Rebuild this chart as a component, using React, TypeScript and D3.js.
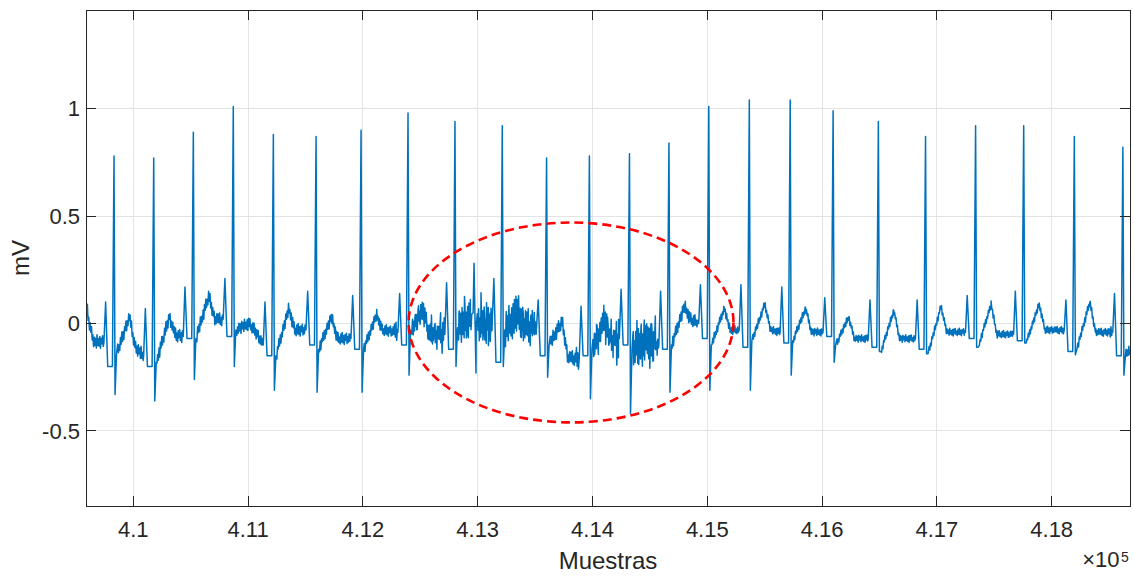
import React, { useEffect, useRef } from 'react';
import * as d3 from 'd3';

// ---- Data ----
// R-peak sample positions
const rSample = [409832, 410178, 410523, 410871, 411220, 411592, 411984, 412393, 412802, 413214, 413600, 413973, 414322, 414666, 415013, 415366, 415722, 416096, 416490, 416901, 417337, 417756, 418197, 418620];
// R-peak amplitude (mV)
const rAmp = [0.78, 0.77, 0.89, 1.01, 0.88, 0.87, 0.90, 0.98, 0.94, 0.92, 0.77, 0.78, 0.79, 0.84, 1.01, 1.04, 1.04, 0.99, 0.94, 0.87, 0.92, 0.92, 0.87, 0.82];
// S-wave minimum (mV)
const sAmp = [-0.33, -0.36, -0.26, -0.20, -0.31, -0.32, -0.32, -0.24, -0.20, -0.20, -0.25, -0.35, -0.42, -0.32, -0.31, -0.31, -0.24, -0.18, -0.13, -0.14, -0.11, -0.09, -0.145, -0.24];
// small spike preceding each R (mV)
const preAmp = [0.10, 0.07, 0.17, 0.21, 0.10, 0.15, 0.13, 0.14, 0.19, 0.21, 0.11, 0.08, 0.16, 0.15, 0.18, 0.18, 0.17, 0.12, 0.11, 0.11, 0.13, 0.15, 0.11, 0.14];
// level between the small spike and R (mV)
const qAmp = [-0.20, -0.20, -0.07, -0.06, -0.15, -0.10, -0.12, -0.10, -0.12, -0.18, -0.15, -0.15, -0.10, -0.12, -0.07, -0.11, -0.09, -0.06, -0.11, -0.12, -0.07, -0.08, -0.13, -0.15];
// level right after S (mV)
const stAmp = [-0.14, -0.18, -0.07, -0.03, -0.15, -0.12, -0.12, -0.03, -0.02, -0.03, -0.10, -0.12, -0.12, -0.10, -0.10, -0.08, -0.08, -0.10, -0.13, -0.14, -0.11, -0.09, -0.12, -0.15];
// T-wave peak (mV)
const tAmp = [0.03, 0.03, 0.13, 0.00, 0.07, 0.03, 0.04, 0.06, 0.03, 0.05, 0.01, 0.02, -0.08, 0.08, 0.07, 0.09, 0.07, 0.03, 0.06, 0.08, 0.09, 0.09, 0.10, -0.05];
// baseline after the T wave (mV)
const isoAfter = [-0.11, -0.05, 0.02, -0.03, -0.03, -0.07, -0.03, -0.05, -0.01, -0.01, -0.16, -0.08, -0.09, 0.02, -0.03, -0.03, -0.04, -0.07, -0.07, -0.04, -0.05, -0.03, -0.04, -0.12];
// baseline before the preceding spike (mV)
const isoBefore = [-0.09, -0.15, -0.06, 0.02, -0.10, -0.03, -0.07, -0.04, -0.05, 0.0, -0.02, -0.16, -0.07, -0.10, 0.0, -0.03, -0.04, -0.04, -0.07, -0.07, -0.04, -0.05, -0.03, -0.04];
// noise band strength around each beat (relative)
const beatNoise = [2.0, 2.0, 2.0, 1.9, 1.9, 1.8, 1.7, 3.0, 5.5, 5.5, 2.2, 3.5, 5.5, 2.0, 1.3, 1.2, 1.2, 1.1, 1.1, 1.1, 1.1, 1.1, 1.2, 1.6];
// beginning of the record
const leadSample = [409588, 409600, 409625, 409660, 409700];
const leadValue = [0.04, 0.06, -0.02, -0.09, -0.08];
// isolated artefact spikes inside the noisy stretch
const spikeSample = [412960, 412968, 412985];
const spikeValue = [0.05, 0.28, -0.23];
// noisy stretch 1 (deviation from the wave, mV)
const noiseAStart = 412450;
const noiseA = [0.03, -0.04, 0.06, -0.02, 0.05, -0.07, 0.02, -0.05, 0.04, 0.09, -0.03, 0.05, -0.07, 0.03, 0.10, -0.04, 0.04, -0.09, 0.07, -0.03,
  0.14, -0.05, 0.04, -0.11, 0.07, 0.02, -0.05, 0.12, -0.08, 0.05, -0.04, 0.09, -0.14, 0.04, 0.08, -0.04, 0.15, -0.07, 0.03, 0.10,
  -0.10, 0.05, -0.03, 0.12, -0.07, 0.04, 0.08, -0.05, 0.03, 0.07, -0.04, 0.05, -0.03, 0.04, -0.07, 0.09, -0.05, 0.03, -0.08, 0.05,
  -0.03, 0.05, -0.07, 0.03, -0.04, 0.07, -0.03, 0.03, -0.05, 0.04];
// noisy stretch 2
const noiseBStart = 414000;
const noiseB = [0.04, -0.05, 0.07, -0.09, 0.04, -0.03, 0.08, -0.11, 0.05, -0.04, 0.10, -0.08, 0.03, -0.12, 0.09, -0.04, 0.07, -0.10, 0.11, -0.05,
  0.04, -0.13, 0.08, -0.07, 0.12, -0.09, 0.04, -0.11, 0.10, -0.04, 0.07, -0.12, 0.09, -0.08, 0.13, -0.05, 0.04, -0.10, 0.08, -0.04,
  0.05, -0.09, 0.10, -0.06];
const noiseStep = 16;
// fine recording noise (mV), one value every textureStep samples
const texture = [0.012, -0.008, 0.015, -0.013, 0.004, -0.016, 0.010, -0.005, 0.014, -0.011, 0.007, -0.015, 0.013, -0.006, 0.009, -0.014,
  0.016, -0.010, 0.005, -0.012, 0.011, -0.016, 0.008, -0.004, 0.015, -0.009, 0.012, -0.014, 0.006, -0.011, 0.013, -0.007,
  0.010, -0.015, 0.014, -0.005, 0.009, -0.013, 0.016, -0.008, 0.007, -0.012, 0.011, -0.016, 0.013, -0.006, 0.015, -0.010,
  0.004, -0.014, 0.012, -0.009, 0.016, -0.011, 0.008, -0.015, 0.010, -0.004, 0.014, -0.013, 0.006, -0.010, 0.013, -0.007];
const textureStep = 6;

// axes
const xDomain = [409588, 418682];
const yDomain = [-0.849, 1.459];
const xTickValues = [410000, 411000, 412000, 413000, 414000, 415000, 416000, 417000, 418000];
const xTickLabels = ['4.1', '4.11', '4.12', '4.13', '4.14', '4.15', '4.16', '4.17', '4.18'];
const yTickValues = [-0.5, 0, 0.5, 1];
const yTickLabels = ['-0.5', '0', '0.5', '1'];
// highlight ellipse (data units)
const ellipseCenter = [413813, 0.005];
const ellipseRadius = [1415, 0.465];

function buildSignal(): [number, number][] {
  const pts: [number, number][] = [];
  leadSample.forEach((s, i) => pts.push([s, leadValue[i]]));
  rSample.forEach((r, i) => {
    pts.push([r - 88, isoBefore[i]]);
    pts.push([r - 73, preAmp[i]]);
    pts.push([r - 55, qAmp[i]]);
    pts.push([r - 14, qAmp[i]]);
    pts.push([r, rAmp[i]]);
    pts.push([r + 9, sAmp[i]]);
    pts.push([r + 22, stAmp[i]]);
    pts.push([r + 135, tAmp[i]]);
    pts.push([r + 185, isoAfter[i]]);
  });
  const wave = d3.scaleLinear().domain(pts.map(p => p[0])).range(pts.map(p => p[1])).clamp(true);
  const nearBeat = (s: number) => rSample.some(r => s > r - 92 && s < r + 28);
  const gainAt = (s: number) => {
    const i = d3.bisectLeft(rSample, s + 120);
    return beatNoise[Math.max(0, Math.min(beatNoise.length - 1, i - 1))];
  };
  const extra: [number, number][] = [];
  noiseA.forEach((n, k) => {
    const s = noiseAStart + k * noiseStep;
    if (!nearBeat(s) && !(s > 412940 && s < 413000)) extra.push([s + 3, wave(s) + n]);
  });
  noiseB.forEach((n, k) => {
    const s = noiseBStart + k * noiseStep;
    if (!nearBeat(s)) extra.push([s + 3, wave(s) + n]);
  });
  spikeSample.forEach((s, i) => extra.push([s, spikeValue[i]]));
  const n = Math.floor((xDomain[1] - xDomain[0]) / textureStep);
  for (let k = 0; k <= n; k++) {
    const s = xDomain[0] + k * textureStep;
    if (nearBeat(s) || (s > 412950 && s < 412995)) continue;
    extra.push([s, wave(s) + texture[k % texture.length] * gainAt(s)]);
  }
  return pts.concat(extra).sort((a, b) => a[0] - b[0]);
}

const W = 1134;
const H = 576;
const L = 86, R = 1130, T = 10, B = 506;
const FONT = '"Liberation Sans", Arial, Helvetica, sans-serif';
const INK = '#262626';

export default function App() {
  const ref = useRef<SVGSVGElement>(null);

  useEffect(() => {
    document.body.style.margin = '0';
    const svg = d3.select(ref.current);
    svg.selectAll('*').remove();

    const x = d3.scaleLinear().domain(xDomain).range([L, R]);
    const y = d3.scaleLinear().domain(yDomain).range([B, T]);

    svg.append('rect').attr('width', W).attr('height', H).attr('fill', '#fff');

    // grid
    const grid = svg.append('g').attr('stroke', '#e3e3e3').attr('stroke-width', 1).attr('shape-rendering', 'crispEdges');
    xTickValues.forEach(v => {
      grid.append('line').attr('x1', x(v)).attr('x2', x(v)).attr('y1', T).attr('y2', B);
    });
    yTickValues.forEach(v => {
      grid.append('line').attr('x1', L).attr('x2', R).attr('y1', y(v)).attr('y2', y(v));
    });

    // trace
    svg.append('defs').append('clipPath').attr('id', 'plotclip')
      .append('rect').attr('x', L).attr('y', T).attr('width', R - L).attr('height', B - T);
    const data = buildSignal();
    const line = d3.line<[number, number]>().x(d => x(d[0])).y(d => y(d[1]));
    svg.append('path')
      .attr('clip-path', 'url(#plotclip)')
      .attr('d', line(data) as string)
      .attr('fill', 'none')
      .attr('stroke', '#0072BD')
      .attr('stroke-width', 1.5)
      .attr('stroke-linejoin', 'round');

    // ellipse annotation
    const cx = x(ellipseCenter[0]);
    const cy = y(ellipseCenter[1]);
    svg.append('ellipse')
      .attr('cx', cx).attr('cy', cy)
      .attr('rx', x(ellipseCenter[0] + ellipseRadius[0]) - cx)
      .attr('ry', cy - y(ellipseCenter[1] + ellipseRadius[1]))
      .attr('fill', 'none')
      .attr('stroke', '#ff0000')
      .attr('stroke-width', 2.6)
      .attr('stroke-dasharray', '9 5');

    // frame and ticks
    const ax = svg.append('g').attr('stroke', INK).attr('stroke-width', 1).attr('shape-rendering', 'crispEdges');
    ax.append('rect').attr('x', L + 0.5).attr('y', T + 0.5).attr('width', R - L).attr('height', B - T).attr('fill', 'none');
    xTickValues.forEach(v => {
      ax.append('line').attr('x1', x(v)).attr('x2', x(v)).attr('y1', B).attr('y2', B - 10);
      ax.append('line').attr('x1', x(v)).attr('x2', x(v)).attr('y1', T).attr('y2', T + 10);
    });
    yTickValues.forEach(v => {
      ax.append('line').attr('x1', L).attr('x2', L + 10).attr('y1', y(v)).attr('y2', y(v));
      ax.append('line').attr('x1', R).attr('x2', R - 10).attr('y1', y(v)).attr('y2', y(v));
    });

    const txt = svg.append('g').attr('fill', INK).attr('font-family', FONT);
    xTickValues.forEach((v, i) => {
      txt.append('text').attr('x', x(v)).attr('y', 537).attr('text-anchor', 'middle')
        .attr('font-size', 22).text(xTickLabels[i]);
    });
    yTickValues.forEach((v, i) => {
      txt.append('text').attr('x', 80).attr('y', y(v) + 7.8).attr('text-anchor', 'end')
        .attr('font-size', 22).text(yTickLabels[i]);
    });
    // exponent
    txt.append('text').attr('x', 1119.5).attr('y', 567).attr('text-anchor', 'end')
      .attr('font-size', 22).text('\u00d710');
    txt.append('text').attr('x', 1121).attr('y', 561.7).attr('text-anchor', 'start')
      .attr('font-size', 14).text('5');
    // axis labels
    txt.append('text').attr('x', (L + R) / 2).attr('y', 569).attr('text-anchor', 'middle')
      .attr('font-size', 24).text('Muestras');
    txt.append('text').attr('transform', `translate(28.5,${(T + B) / 2}) rotate(-90)`)
      .attr('text-anchor', 'middle').attr('font-size', 24).text('mV');
  }, []);

  return <svg ref={ref} width={W} height={H} style={{ display: 'block' }} />;
}
